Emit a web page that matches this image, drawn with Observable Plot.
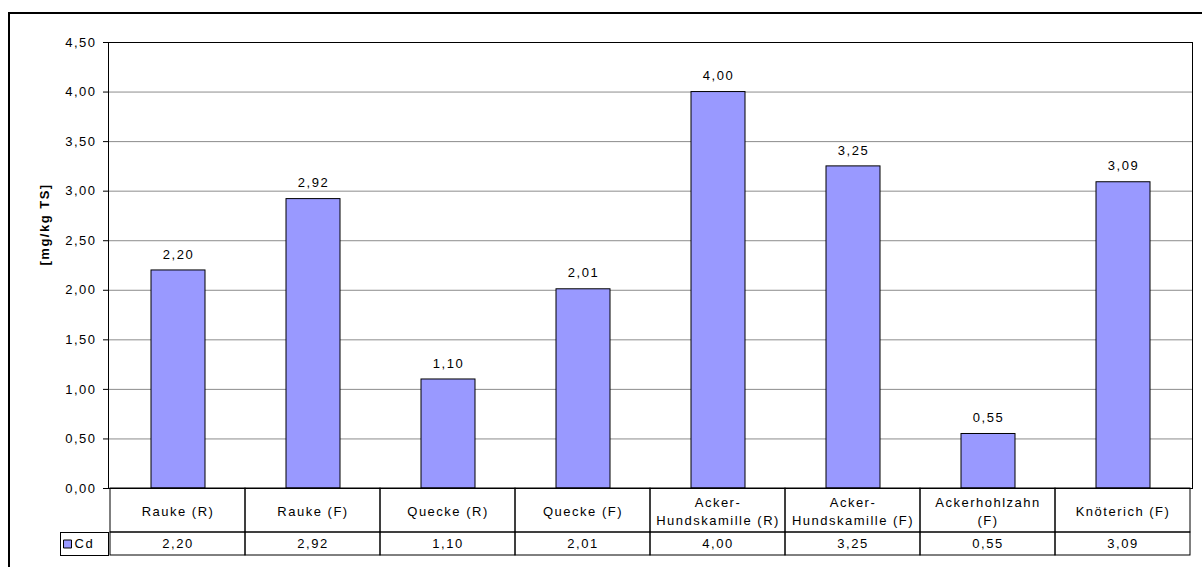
<!DOCTYPE html>
<html>
<head>
<meta charset="utf-8">
<script src="https://cdn.jsdelivr.net/npm/d3@7"></script>
<script src="https://cdn.jsdelivr.net/npm/@observablehq/plot@0.6"></script>
<style>
  html, body { margin: 0; padding: 0; background: #fff; }
  #wrap { position: relative; width: 1202px; height: 567px; overflow: hidden; background: #fff; }
  #wrap > svg, #wrap > div { position: absolute; left: 0; }
  #outer { left: 8px !important; top: 12px; width: 1300px; height: 700px; border-left: 2px solid #000; border-top: 2px solid #000; box-sizing: border-box; }
</style>
</head>
<body>
<div id="wrap"><div id="outer"></div></div>
<script>
// ---- data ----
const categories = ["Rauke (R)", "Rauke (F)", "Quecke (R)", "Quecke (F)", "Acker-\nHundskamille (R)", "Acker-\nHundskamille (F)", "Ackerhohlzahn\n(F)", "Knöterich (F)"];
const cdValues = [2.20, 2.92, 1.10, 2.01, 4.00, 3.25, 0.55, 3.09];
const seriesName = "Cd";
const yTicks = [0, 0.5, 1.0, 1.5, 2.0, 2.5, 3.0, 3.5, 4.0, 4.5];
const yTitle = "[mg/kg TS]";

const rows = categories.map((c, i) => ({cat: c, value: cdValues[i]}));
const fmt = d => d.toFixed(2).replace(".", ",");

const barColor = "#9999FF";
const textStyle = {fontFamily: "'Liberation Sans', Arial, sans-serif", fontSize: "13px", letterSpacing: "1.5px", color: "#000", background: "transparent", overflow: "visible"};
const W = 1202, ML = 108, MR = 10;

const wrap = document.getElementById("wrap");

// ---- main chart ----
const chart = Plot.plot({
  width: W, height: 500,
  marginTop: 42, marginBottom: 12, marginLeft: ML, marginRight: MR,
  style: textStyle,
  x: {type: "band", domain: categories, paddingInner: 0.6, paddingOuter: 0.3, axis: null},
  y: {domain: [0, 4.5], ticks: yTicks, tickFormat: fmt, tickSize: 5, tickPadding: 7, label: null, line: true},
  marks: [
    Plot.ruleY(yTicks.filter(t => t > 0 && t < 4.5), {stroke: "#8c8c8c", strokeWidth: 1}),
    Plot.barY(rows, {x: "cat", y: "value", fill: barColor, stroke: "#000", strokeWidth: 1}),
    Plot.frame({stroke: "#000"}),
    Plot.text(rows, {x: "cat", y: "value", text: d => fmt(d.value), dy: -16, fill: "#000"}),
    Plot.text([yTitle], {frameAnchor: "left", dx: -64, rotate: -90, fontWeight: "bold", fill: "#000", letterSpacing: "1px"})
  ]
});
chart.style.top = "0px";
wrap.appendChild(chart);

// ---- data table: category row ----
const catRow = Plot.plot({
  width: W, height: 46,
  marginTop: 1, marginBottom: 1, marginLeft: ML, marginRight: MR,
  style: textStyle,
  x: {type: "band", domain: categories, padding: 0, axis: null},
  marks: [
    Plot.cell(categories, {x: d => d, fill: "none", stroke: "#000", inset: 0}),
    Plot.text(categories, {x: d => d, text: d => d, frameAnchor: "middle", lineHeight: 1.35, fill: "#000"})
  ]
});
catRow.style.top = "487px";
wrap.appendChild(catRow);

// ---- data table: value row with legend key ----
const valRow = Plot.plot({
  width: W, height: 26,
  marginTop: 1, marginBottom: 2, marginLeft: ML, marginRight: MR,
  style: textStyle,
  x: {type: "band", domain: categories, padding: 0, axis: null},
  marks: [
    Plot.cell(rows, {x: "cat", fill: "none", stroke: "#000", inset: 0}),
    Plot.frame({stroke: "#000", insetLeft: -48, insetRight: 1084}),
    Plot.dot([seriesName], {frameAnchor: "left", dx: -41, symbol: "square", r: 4.5, fill: barColor, stroke: "#000", strokeWidth: 1}),
    Plot.text([seriesName], {frameAnchor: "left", dx: -34, textAnchor: "start", fill: "#000"}),
    Plot.text(rows, {x: "cat", text: d => fmt(d.value), frameAnchor: "middle", fill: "#000"})
  ]
});
valRow.style.top = "531px";
wrap.appendChild(valRow);
</script>
</body>
</html>
